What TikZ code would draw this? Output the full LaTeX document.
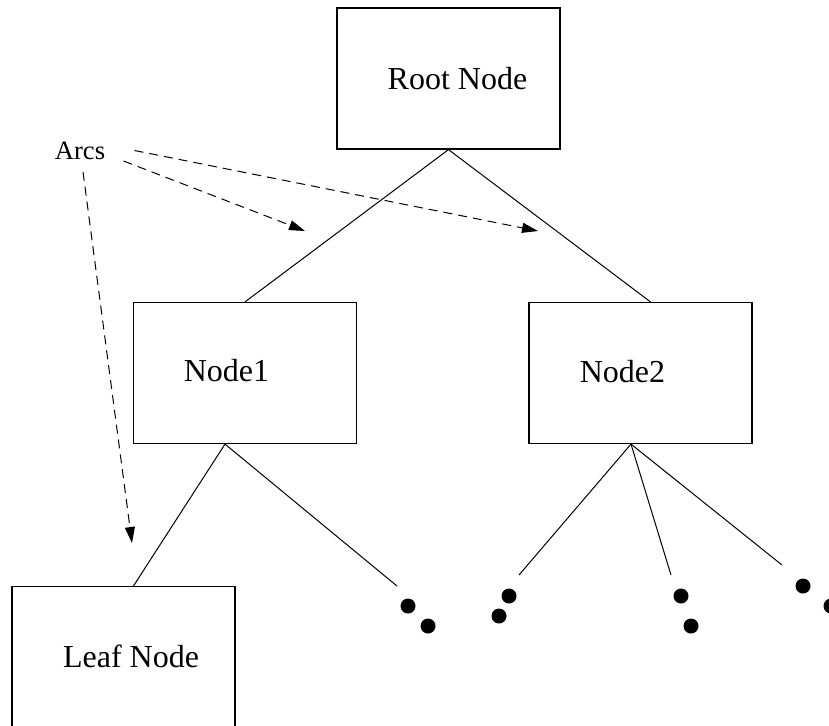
\documentclass[tikz,border=0pt]{standalone}
\usepackage{fontspec}
\setmainfont{Liberation Serif}
\usetikzlibrary{arrows.meta}

\begin{document}
\begin{tikzpicture}[x=0.5pt,y=-0.5pt,>={Triangle[length=8pt,width=5pt]},
    treebox/.style={draw,line width=0.6pt,minimum width=111.5pt,minimum height=70.5pt,inner sep=0pt},
    lbl/.style={font=\fontsize{16}{19}\selectfont,inner sep=0pt},
    branch/.style={line width=0.5pt},
    pointer/.style={->,line width=0.5pt,dash pattern=on 4.5pt off 3pt},
    leafdot/.style={circle,fill,inner sep=0pt,minimum size=7.5pt}]
  \clip (0,0) rectangle (829,725);
  % boxes of the tree
  \node[treebox] (root) at (448.5,78.5) {};
  \node[treebox] (n1) at (245,373) {};
  \node[treebox] (n2) at (640.5,373) {};
  \node[treebox] (leaf) at (123.5,657) {};
  \node[lbl] (root-t) at (457.5,78.5) {Root Node};
  \node[lbl] (n1-t) at (226.5,371) {Node1};
  \node[lbl] (n2-t) at (622.5,372) {Node2};
  \node[lbl] (leaf-t) at (131,656) {Leaf Node};
  % open ends of the lower branches
  \coordinate (c1) at (397,586);
  \coordinate (c2) at (519,575);
  \coordinate (c3) at (671,575);
  \coordinate (c4) at (782,565);
  \draw[branch] (root.south) -- (n1.north);
  \draw[branch] (root.south) -- ([xshift=5pt]n2.north);
  \draw[branch] ([xshift=-10pt]n1.south) -- ([xshift=5pt]leaf.north);
  \draw[branch] ([xshift=-10pt]n1.south) -- (c1);
  \draw[branch] ([xshift=-4.75pt]n2.south) -- (c2);
  \draw[branch] ([xshift=-4.75pt]n2.south) -- (c3);
  \draw[branch] ([xshift=-4.75pt]n2.south) -- (c4);
  % dots for the rest of the tree
  \foreach [count=\i] \x/\y in {408/606,428/626,509/596,499/616,681/596,691/626,803/586,831/606}
    \node[leafdot] (d\i) at (\x,\y) {};
  % label with dashed pointers to the arcs
  \node[font=\fontsize{13.3}{16}\selectfont,inner sep=0pt] (arcs) at (80,150.5) {Arcs};
  \coordinate (tipA) at (305,231);
  \coordinate (tipB) at (538,231);
  \coordinate (tipC) at (132,543);
  \draw[pointer] ([xshift=14.5pt]arcs.east) -- (tipB);
  \draw[pointer] ([shift={(9pt,-5.25pt)}]arcs.east) -- (tipA);
  \draw[pointer] ([shift={(1.5pt,-6pt)}]arcs.south) -- (tipC);
\end{tikzpicture}
\end{document}
